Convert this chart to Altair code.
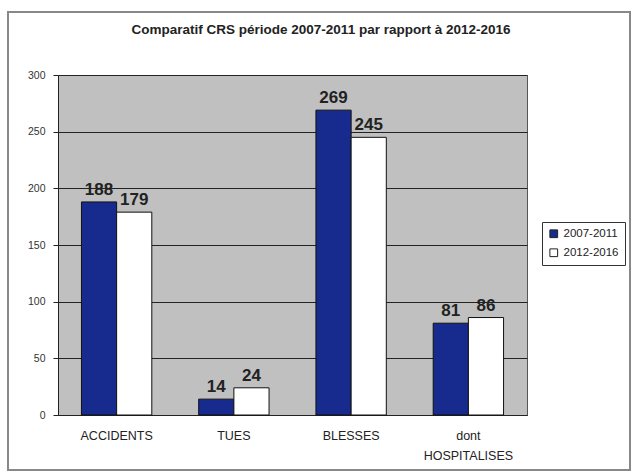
import altair as alt
import pandas as pd

categories = ["ACCIDENTS", "TUES", "BLESSES", "dont\nHOSPITALISES"]
periods = ["2007-2011", "2012-2016"]
values_2007_2011 = [188, 14, 269, 81]
values_2012_2016 = [179, 24, 245, 86]
title_text = "Comparatif CRS période 2007-2011 par rapport à 2012-2016"

rows = []
for c, a, b in zip(categories, values_2007_2011, values_2012_2016):
    rows.append({"cat": c, "period": periods[0], "value": a})
    rows.append({"cat": c, "period": periods[1], "value": b})
df = pd.DataFrame(rows)

FONT = "Liberation Sans"

x = alt.X("cat:N", sort=categories, title=None,
          scale=alt.Scale(paddingInner=0.4, paddingOuter=0.2),
          axis=alt.Axis(labelAngle=0, labelExpr="split(datum.value, '\\n')",
                        labelFontSize=12.5, labelColor="#222", labelPadding=14,
                        domainColor="#222", ticks=False, labelLineHeight=20))
y = alt.Y("value:Q", title=None,
          scale=alt.Scale(domain=[0, 300], nice=False),
          axis=alt.Axis(values=[0, 50, 100, 150, 200, 250, 300], labelFontSize=10.5,
                        labelColor="#333", gridColor="#222", gridWidth=1,
                        domainColor="#222", tickColor="#222", tickSize=5,
                        labelPadding=8))

bars = alt.Chart(df).mark_bar(stroke="#111", strokeWidth=1).encode(
    x=x, y=y,
    xOffset=alt.XOffset("period:N", sort=periods),
    color=alt.Color("period:N", sort=periods,
                    scale=alt.Scale(domain=periods, range=["#172b8f", "#ffffff"]),
                    legend=alt.Legend(title=None, orient="none", legendX=484, legendY=147,
                                      strokeColor="#333", padding=6, labelFontSize=11.5,
                                      labelColor="#222", symbolType="square",
                                      symbolSize=60, symbolStrokeColor="#222",
                                      symbolStrokeWidth=1, rowPadding=6, labelFont=FONT)),
)

labels = alt.Chart(df).mark_text(dy=-12, fontSize=17, fontWeight="bold",
                                 color="#222", font=FONT).encode(
    x=alt.X("cat:N", sort=categories),
    xOffset=alt.XOffset("period:N", sort=periods),
    y="value:Q",
    text="value:Q",
)

frame = alt.Chart(df).mark_rect(fill=None, stroke="#888", strokeWidth=1.5, clip=False).encode(
    x=alt.value(-50), x2=alt.value(572), y=alt.value(-63), y2=alt.value(395)
)

title = alt.Chart(pd.DataFrame({"t": [title_text]})).mark_text(
    fontSize=13.5, font=FONT, fontWeight="bold", color="#222", clip=False
).encode(x=alt.value(263), y=alt.value(-45), text="t:N")

chart = alt.layer(bars, labels, frame, title).properties(
    width=469, height=340,
    padding={"left": 58, "top": 75, "right": 105, "bottom": 61},
    autosize=alt.AutoSizeParams(type="none"),
).configure_view(fill="#c0c0c0", stroke="#555", strokeWidth=1
).configure_axis(labelFont=FONT, grid=True
).configure_axisX(grid=False)

chart.save("out.html", embed_options={"renderer": "svg", "actions": False})
